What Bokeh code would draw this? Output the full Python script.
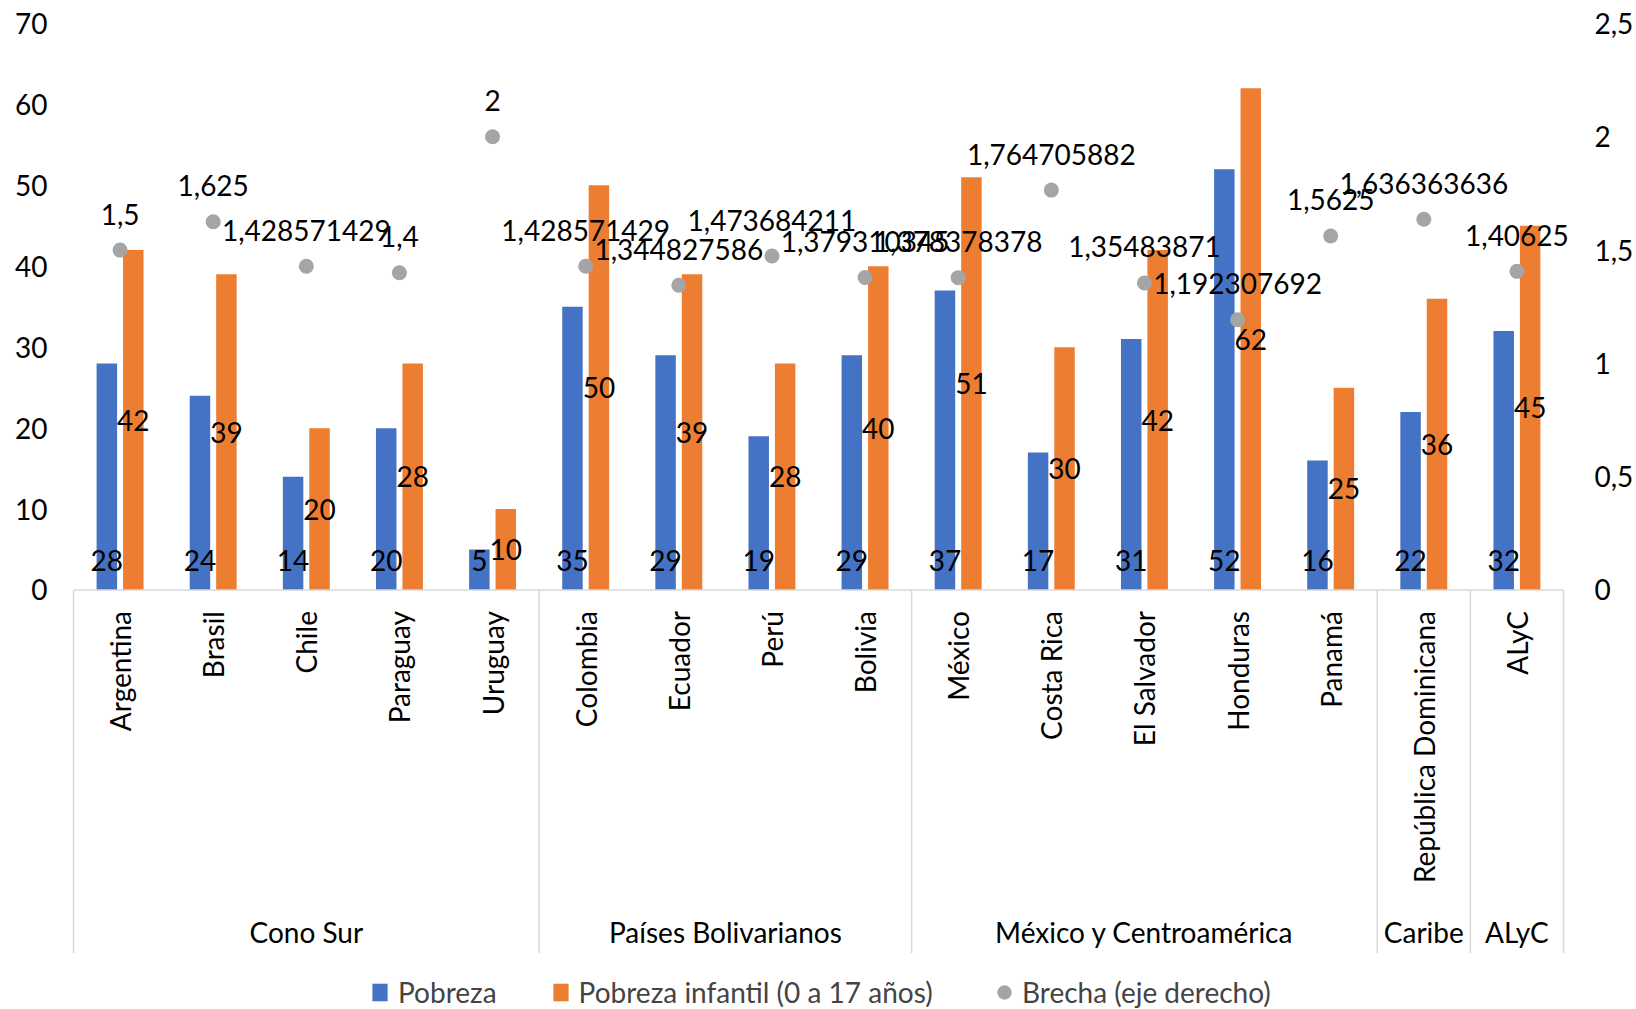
import numpy as np
from bokeh.plotting import figure
from bokeh.models import (ColumnDataSource, FactorRange, Range1d, LinearAxis,
                          FixedTicker, Legend, LegendItem, LabelSet)
from bokeh.transform import dodge
from bokeh.core.properties import value
from bokeh.embed import file_html
from bokeh.resources import INLINE

# ---------------- data ----------------
countries = ["Argentina", "Brasil", "Chile", "Paraguay", "Uruguay",
             "Colombia", "Ecuador", "Perú", "Bolivia",
             "México", "Costa Rica", "El Salvador", "Honduras", "Panamá",
             "República Dominicana", "ALyC"]
groups = ["Cono Sur", "Países Bolivarianos", "México y Centroamérica", "Caribe", "ALyC"]
group_sizes = [5, 4, 5, 1, 1]
pobreza = [28, 24, 14, 20, 5, 35, 29, 19, 29, 37, 17, 31, 52, 16, 22, 32]
pobreza_infantil = [42, 39, 20, 28, 10, 50, 39, 28, 40, 51, 30, 42, 62, 25, 36, 45]
brecha = [1.5, 1.625, 1.428571429, 1.4, 2, 1.428571429, 1.344827586, 1.473684211,
          1.379310345, 1.378378378, 1.764705882, 1.35483871, 1.192307692, 1.5625,
          1.636363636, 1.40625]
left_ticks = [0, 10, 20, 30, 40, 50, 60, 70]
right_ticks = [0, 0.5, 1, 1.5, 2, 2.5]
right_tick_labels = ["0", "0,5", "1", "1,5", "2", "2,5"]

# ---------------- style ----------------
FONT = "Lato"
FS = "28px"
BLUE = "#4472C4"
ORANGE = "#ED7D31"
GREY = "#A5A5A5"
LINE = "#D9D9D9"
Y_BOTTOM = -51.84          # bottom of frame (category label + legend area)
SEP_BOTTOM = -44.87        # bottom of group separators
COUNTRY_Y = -2.6           # top of rotated country labels
GROUP_Y = -42.3            # group label centre
OFF = 0.142                # bar offset from category centre
BW = 0.22                  # bar width
XPAD = 0.086               # small extra room on each side of the categories
PADPX = 8                  # same padding, in pixels

src = ColumnDataSource(dict(
    country=countries,
    pobreza=pobreza,
    infantil=pobreza_infantil,
    half=[v / 2 for v in pobreza_infantil],
    brecha=brecha,
    pob_lbl=[str(v) for v in pobreza],
    inf_lbl=[str(v) for v in pobreza_infantil],
    bre_lbl=[str(v).replace(".", ",") for v in brecha],
))

p = figure(width=1636, height=1009, output_backend="svg", toolbar_location=None,
           x_range=FactorRange(*countries, range_padding=XPAD,
                               range_padding_units="absolute", factor_padding=0),
           y_range=Range1d(Y_BOTTOM, 70),
           x_axis_location=None, y_axis_location="left",
           min_border_left=73 - PADPX, min_border_right=73 - PADPX, min_border_top=23,
           min_border_bottom=0)
p.outline_line_color = None
p.grid.visible = False
p.background_fill_color = "white"
p.border_fill_color = "white"

p.extra_y_ranges = {"right": Range1d(Y_BOTTOM * 2.5 / 70, 2.5)}

# left axis
ya = p.yaxis[0]
ya.ticker = FixedTicker(ticks=left_ticks)
ya.axis_line_color = None
ya.major_tick_line_color = None
ya.minor_tick_line_color = None
ya.major_tick_out = 0
ya.major_tick_in = 0
ya.minor_tick_out = 0
ya.major_label_standoff = 26 - PADPX
ya.major_label_text_font = FONT
ya.major_label_text_font_size = FS
ya.major_label_text_color = "black"

# right axis
ra = LinearAxis(y_range_name="right", ticker=FixedTicker(ticks=right_ticks),
                major_label_overrides={t: l for t, l in zip(right_ticks, right_tick_labels)})
ra.axis_line_color = None
ra.major_tick_line_color = None
ra.minor_tick_line_color = None
ra.major_tick_out = 0
ra.major_tick_in = 0
ra.minor_tick_out = 0
ra.major_label_standoff = 31 - PADPX
ra.major_label_text_font = FONT
ra.major_label_text_font_size = FS
ra.major_label_text_color = "black"
p.add_layout(ra, "right")

# bars
r_blue = p.vbar(x=dodge("country", -OFF, range=p.x_range), top="pobreza", width=BW,
                source=src, fill_color=BLUE, line_color=None)
r_orange = p.vbar(x=dodge("country", OFF, range=p.x_range), top="infantil", width=BW,
                  source=src, fill_color=ORANGE, line_color=None)
# dots
r_dot = p.scatter(x="country", y="brecha", y_range_name="right", size=15,
                  source=src, fill_color=GREY, line_color=None)

# axis line and group separators
bounds = np.concatenate([[0], np.cumsum(group_sizes)])
p.segment(x0=[bounds[0]], y0=[0], x1=[bounds[-1]], y1=[0], line_color=LINE, line_width=1.5)
p.segment(x0=bounds, y0=0, x1=bounds, y1=SEP_BOTTOM, line_color=LINE, line_width=1.5)

txt = dict(text_font=value(FONT), text_font_size=FS, text_color="black")
# data labels
p.text(x=dodge("country", -OFF, range=p.x_range), y=0, text="pob_lbl", source=src,
       text_align="center", text_baseline="middle", y_offset=-29, **txt)
p.text(x=dodge("country", OFF, range=p.x_range), y="half", text="inf_lbl", source=src,
       text_align="center", text_baseline="middle", **txt)
p.add_layout(LabelSet(x="country", y="brecha", y_range_name="right", text="bre_lbl",
                      source=src, text_align="center", text_baseline="middle",
                      y_offset=36, text_font=value(FONT), text_font_size=value(FS),
                      text_color="black"))

# category labels
p.text(x="country", y=COUNTRY_Y, text="country", source=src, angle=np.pi / 2,
       text_align="right", text_baseline="middle", **txt)
group_centers = bounds[:-1] + np.array(group_sizes) / 2
p.text(x=group_centers, y=GROUP_Y, text=groups,
       text_align="center", text_baseline="middle", **txt)

# legends
leg1 = Legend(items=[LegendItem(label="Pobreza", renderers=[r_blue]),
                     LegendItem(label="Pobreza infantil (0 a 17 años)", renderers=[r_orange])],
              orientation="horizontal", location=(297 + PADPX, -1), glyph_width=19,
              glyph_height=22, label_standoff=9, spacing=54, padding=0, margin=0,
              border_line_color=None, background_fill_alpha=0,
              label_text_font=FONT, label_text_font_size=FS, label_height=36)
leg2 = Legend(items=[LegendItem(label="Brecha (eje derecho)", renderers=[r_dot])],
              orientation="horizontal", location=(913 + PADPX, -1), glyph_width=36,
              glyph_height=36, label_standoff=0, padding=0, margin=0,
              border_line_color=None, background_fill_alpha=0,
              label_text_font=FONT, label_text_font_size=FS, label_height=36)
p.add_layout(leg1)
p.add_layout(leg2)

open("out.html", "w").write(file_html(p, INLINE))
